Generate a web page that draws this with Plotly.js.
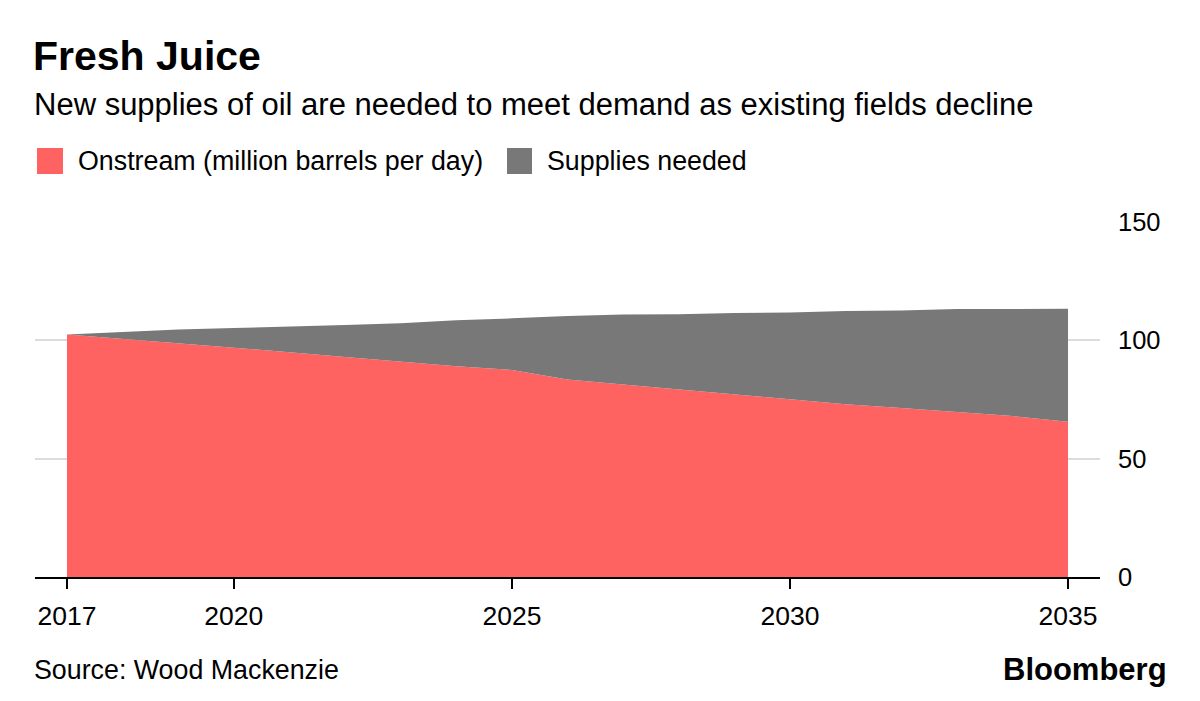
<!DOCTYPE html>
<html>
<head>
<meta charset="utf-8">
<script src="https://cdn.plot.ly/plotly-3.0.1.min.js"></script>
<style>
  html, body { margin: 0; padding: 0; background: #fff; }
  #chart { width: 1200px; height: 701px; }
</style>
</head>
<body>
<div id="chart"></div>
<script>
// Data (million barrels per day)
const years = [2017, 2018, 2019, 2020, 2021, 2022, 2023, 2024, 2025, 2026,
               2027, 2028, 2029, 2030, 2031, 2032, 2033, 2034, 2035];
const onstream = [102.5, 100.7, 98.9, 97.0, 95.0, 93.0, 91.0, 89.0, 87.5, 83.5,
                  81.3, 79.2, 77.2, 74.9, 73.0, 71.4, 69.8, 68.0, 65.6];
const suppliesNeeded = [0, 2.9, 5.7, 8.2, 10.7, 13.5, 16.2, 19.5, 21.8, 26.8,
                        29.6, 31.8, 34.4, 36.9, 39.4, 41.2, 43.4, 45.3, 47.7];
const xTicks = [2017, 2020, 2025, 2030, 2035];
const yTicks = [0, 50, 100, 150];
const seriesNames = ['Onstream (million barrels per day)', 'Supplies needed'];
const colors = ['#ff6361', '#787878'];

const FONT = 'Liberation Sans, Arial, sans-serif';

const traces = [
  {
    x: years, y: onstream, name: seriesNames[0], type: 'scatter', mode: 'lines',
    stackgroup: 'one', fillcolor: colors[0], line: {width: 0, color: colors[0]},
    hoverinfo: 'x+y'
  },
  {
    x: years, y: suppliesNeeded, name: seriesNames[1], type: 'scatter', mode: 'lines',
    stackgroup: 'one', fillcolor: colors[1], line: {width: 0, color: colors[1]},
    hoverinfo: 'x+y'
  }
];

// paper-coordinate helpers (plot area: x 35..1100 px, y 222..577 px)
const L = 35, R = 1100, T = 222, B = 577;
const px = v => (v - L) / (R - L);
const py = v => (B - v) / (B - T);

const layout = {
  width: 1200, height: 701,
  paper_bgcolor: '#fff', plot_bgcolor: '#fff',
  margin: {l: L, r: 1200 - R, t: T, b: 701 - B, pad: 0},
  showlegend: false,
  font: {family: FONT, color: '#000'},
  title: {
    text: '<b>Fresh Juice</b>',
    xref: 'container', yref: 'container',
    x: 33 / 1200, xanchor: 'left',
    y: 1 - 56 / 701, yanchor: 'middle',
    font: {family: FONT, size: 41, color: '#000'}
  },
  xaxis: {
    range: [2016.425, 2035.575],
    tickvals: xTicks, ticktext: xTicks.map(String),
    ticks: 'outside', ticklen: 10, tickwidth: 1.5, tickcolor: '#000',
    showline: true, linecolor: '#000', linewidth: 1.5,
    showgrid: false, zeroline: false,
    tickfont: {family: FONT, size: 26.5, color: '#000'},
    ticklabelstandoff: 5,
    fixedrange: true
  },
  yaxis: {
    range: [0, 150], side: 'right',
    tickvals: yTicks, ticktext: yTicks.map(String),
    ticks: '', showline: false, zeroline: false,
    showgrid: true, gridcolor: '#dcdcdc', gridwidth: 2,
    tickfont: {family: FONT, size: 25.5, color: '#000'},
    ticklabelstandoff: 17,
    fixedrange: true
  },
  shapes: [
    {type: 'rect', xref: 'paper', yref: 'paper', x0: px(37), x1: px(63), y0: py(174), y1: py(148),
     fillcolor: colors[0], line: {width: 0}},
    {type: 'rect', xref: 'paper', yref: 'paper', x0: px(507), x1: px(532), y0: py(174), y1: py(148),
     fillcolor: colors[1], line: {width: 0}}
  ],
  annotations: [
    {text: 'New supplies of oil are needed to meet demand as existing fields decline',
     xref: 'paper', yref: 'paper', x: px(32), y: py(104), xanchor: 'left', yanchor: 'middle',
     showarrow: false, font: {family: FONT, size: 31, color: '#000'}},
    {text: seriesNames[0], xref: 'paper', yref: 'paper', x: px(76), y: py(161),
     xanchor: 'left', yanchor: 'middle', showarrow: false,
     font: {family: FONT, size: 26.8, color: '#000'}},
    {text: seriesNames[1], xref: 'paper', yref: 'paper', x: px(545), y: py(161),
     xanchor: 'left', yanchor: 'middle', showarrow: false,
     font: {family: FONT, size: 26.8, color: '#000'}},
    {text: 'Source: Wood Mackenzie', xref: 'paper', yref: 'paper', x: px(32), y: py(670),
     xanchor: 'left', yanchor: 'middle', showarrow: false,
     font: {family: FONT, size: 26.8, color: '#000'}},
    {text: '<b>Bloomberg</b>', xref: 'paper', yref: 'paper', x: px(1169), y: py(669),
     xanchor: 'right', yanchor: 'middle', showarrow: false,
     font: {family: FONT, size: 31, color: '#000'}}
  ]
};

Plotly.newPlot('chart', traces, layout, {displayModeBar: false, staticPlot: true});
</script>
</body>
</html>
